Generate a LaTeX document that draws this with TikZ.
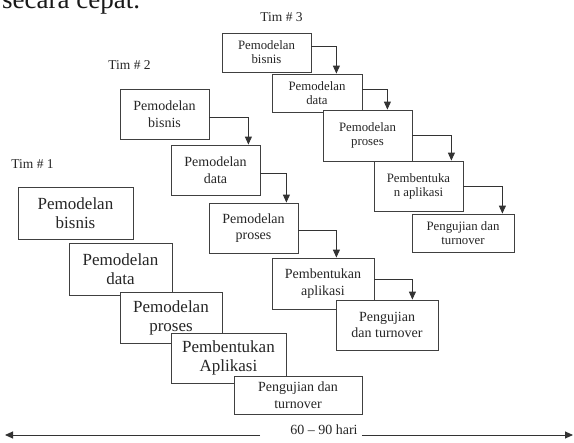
\documentclass[tikz,border=0pt]{standalone}
\usepackage{fontspec}
\setmainfont{Liberation Serif}
\usetikzlibrary{arrows.meta}

\tikzset{
  kotak/.style={draw=black!75, fill=white, line width=0.8pt, inner sep=0pt, align=center, text=black!85},
  isi/.style={align=center, inner sep=0pt, text=black!85},
  panah/.style={draw=black!80, line width=0.9pt, -{Triangle[length=8pt,width=7pt]}},
  tim/.style={font=\fontsize{13.5}{15}\selectfont, text=black!85},
  kecil/.style={font=\fontsize{12.8}{14}\selectfont},
  sedang/.style={font=\fontsize{14}{16.5}\selectfont},
  besar/.style={font=\fontsize{17}{19}\selectfont}
}

\begin{document}
\begin{tikzpicture}[x=1pt,y=-1pt]
\useasboundingbox (0,0) rectangle (574,443);

% baris teks yang terpotong di atas
\node[anchor=base west, inner sep=0pt, text=black!90, font=\fontsize{27}{30}\selectfont] (judul) at (2,8.5) {secara cepat.};

\node[tim] (tim3) at (281.5,17) {Tim \# 3};
\node[tim] (tim2) at (129.5,65) {Tim \# 2};
\node[tim] (tim1) at (32.5,164) {Tim \# 1};

% Tim 3
\node[kotak, kecil, minimum width=89, minimum height=39] (t3a) at (266.5,52.5) {Pemodelan\\bisnis};
\node[kotak, kecil, minimum width=90, minimum height=38] (t3b) at (317,93) {Pemodelan\\data};
\node[kotak, kecil, minimum width=89, minimum height=51] (t3c) at (367.5,135.5) {Pemodelan\\proses};
\node[kotak, kecil, minimum width=89, minimum height=50] (t3d) at (418.5,186) {Pembentuka\\n aplikasi};
\node[kotak, kecil, minimum width=102, minimum height=38] (t3e) at (463,233) {Pengujian dan\\turnover};
\draw[panah] ([yshift=6.5]t3a.east) -| ([xshift=-26]t3b.north east);
\draw[panah] ([yshift=4]t3b.east) -| ([xshift=-25]t3c.north east);
\draw[panah] (t3c.east) -| ([xshift=-12]t3d.north east);
\draw[panah] (t3d.east) -| ([xshift=-12]t3e.north east);

% Tim 2
\node[kotak, sedang, minimum width=89, minimum height=50] (t2a) at (164.5,114) {Pemodelan\\bisnis};
\node[kotak, sedang, minimum width=89, minimum height=50] (t2b) at (215.5,170) {Pemodelan\\data};
\node[kotak, sedang, minimum width=89, minimum height=50] (t2c) at (253.5,228) {Pemodelan\\proses};
\node[kotak, sedang, minimum width=102, minimum height=51] (t2d) at (323,283.5) {Pembentukan\\aplikasi};
\node[kotak, sedang, minimum width=102, minimum height=50] (t2e) at (387,325) {Pengujian\\dan turnover};
\draw[panah] ([yshift=-3]t2a.east) -| ([xshift=-12]t2b.north east);
\draw[panah] ([yshift=-3]t2b.east) -| ([xshift=-12]t2c.north east);
\draw[panah] ([yshift=-2]t2c.east) -| ([xshift=-38]t2d.north east);
\draw[panah] ([yshift=4.5]t2d.east) -| ([xshift=-26]t2e.north east);

% Tim 1: kotak dulu, tulisan sesudahnya
\node[kotak, minimum width=115, minimum height=52] (t1a) at (75.5,213) {};
\node[kotak, minimum width=103, minimum height=52] (t1b) at (120.5,269) {};
\node[kotak, minimum width=102, minimum height=51] (t1c) at (171,317.5) {};
\node[kotak, minimum width=115, minimum height=50] (t1d) at (228.5,358) {};
\node[kotak, minimum width=128, minimum height=38] (t1e) at (298,395) {};
\node[isi, besar] (t1a-isi) at (t1a) {Pemodelan\\bisnis};
\node[isi, besar] (t1b-isi) at (t1b) {Pemodelan\\data};
\node[isi, besar] (t1c-isi) at (t1c) {Pemodelan\\proses};
\node[isi, besar] (t1d-isi) at (t1d) {Pembentukan\\Aplikasi};
\node[isi, sedang] (t1e-isi) at (t1e) {Pengujian dan\\turnover};

% waktu
\node[sedang, anchor=base, inner sep=0pt, text=black!85] (durasi) at (324,435) {60 -- 90 hari};
\coordinate (kiri) at (5,435);
\coordinate (kanan) at (573,435);
\draw[panah] ([xshift=-30]durasi.base west) -- (kiri);
\draw[panah] ([xshift=4]durasi.base east) -- (kanan);
\end{tikzpicture}
\end{document}
